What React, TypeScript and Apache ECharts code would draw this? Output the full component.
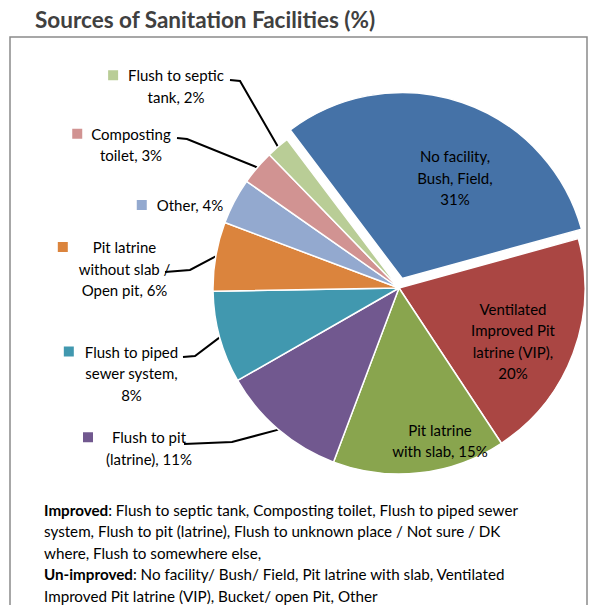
import React, { useEffect, useRef } from "react";
import * as echarts from "echarts";

// ---- data ----
const categories = [
  "No facility, Bush, Field",
  "Ventilated Improved Pit latrine (VIP)",
  "Pit latrine with slab",
  "Flush to pit (latrine)",
  "Flush to piped sewer system",
  "Pit latrine without slab / Open pit",
  "Other",
  "Composting toilet",
  "Flush to septic tank",
];
const values = [31, 20, 15, 11, 8, 6, 4, 3, 2];
// label lines ({v} = value)
const labelTexts = [
  ["No facility,", "Bush, Field,", "{v}"],
  ["Ventilated", "Improved Pit", "latrine (VIP),", "{v}"],
  ["Pit latrine", "with slab, {v}"],
  ["Flush to pit", "(latrine), {v}"],
  ["Flush to piped", "sewer system,", "{v}"],
  ["Pit latrine", "without slab /", "Open pit, {v}"],
  ["Other, {v}"],
  ["Composting", "toilet, {v}"],
  ["Flush to septic", "tank, {v}"],
];
const explodedIndex = 0;
const noteLines = [
  "{b|Improved}: Flush to septic tank, Composting toilet, Flush to piped sewer",
  "system, Flush to pit (latrine), Flush to unknown place / Not sure / DK",
  "where, Flush to somewhere else,",
  "{b|Un-improved}: No facility/ Bush/ Field, Pit latrine with slab, Ventilated",
  "Improved Pit latrine (VIP), Bucket/ open Pit, Other",
];
const titleText = "Sources of Sanitation Facilities (%)";

// ---- styles / layout ----
const colors = ["#4572A7", "#AA4643", "#89A54E", "#71588F", "#4198AF", "#DB843D", "#93A9CF", "#D19392", "#B9CD96"];
const insideLabel = [true, true, true, false, false, false, false, false, false];
const labelPos: [number, number][] = [
  [455, 177.5], [513, 341], [440, 440.5], [149, 448], [131.5, 373],
  [124.5, 268.5], [190, 205], [131, 144.5], [176, 86],
];
const keyGap = [0, 0, 0, 19, 11, 25, 10, 9, 10];
// leader line points on the label side: [elbow, end]
const leaderPts: (number[][] | null)[] = [
  null, null, null,
  [[232, 442], [184, 444]],
  [[195, 356], [183, 357]],
  [[190, 270], [165, 272]],
  null,
  [[187, 139], [177, 138]],
  [[240, 81], [230, 80]],
];
const CENTER: [number, number] = [399, 288];
const RADIUS = 186;
const START = 127;
const EXPLODE = 10;
const FONT = "Lato, 'Open Sans', sans-serif";

export default function App() {
  const ref = useRef<HTMLDivElement>(null);
  useEffect(() => {
    document.body.style.margin = "0";
    const chart = echarts.init(ref.current!, undefined, { renderer: "svg" });
    const total = values.reduce((a, b) => a + b, 0);
    let before = 0;
    for (let i = 0; i < explodedIndex; i++) before += values[i];
    const midDeg = START - ((before + values[explodedIndex] / 2) / total) * 360;
    const midRad = (midDeg * Math.PI) / 180;
    const exCenter = [CENTER[0] + EXPLODE * Math.cos(midRad), CENTER[1] - EXPLODE * Math.sin(midRad)];

    const data = values.map((v, i) => {
      const lines = labelTexts[i].map((l) => l.replace("{v}", `${v}%`));
      const item: any = {
        name: categories[i],
        value: v,
        itemStyle:
          i === explodedIndex
            ? { color: "rgba(0,0,0,0)", borderWidth: 0 }
            : { color: colors[i] },
      };
      if (insideLabel[i]) {
        item.label = { position: "inside", formatter: lines.join("\n") };
        item.labelLine = { show: false };
      } else {
        const first = `{k|}{g|}${lines[0]}{g|}{e|}`;
        item.label = {
          position: "outside",
          formatter: [first, ...lines.slice(1)].join("\n"),
          rich: {
            k: { width: 10, height: 10, backgroundColor: colors[i] },
            g: { width: keyGap[i] },
            e: { width: 10 },
          },
        };
        item.labelLine = { show: !!leaderPts[i] };
      }
      return item;
    });

    const explodedData = values.map((v, i) => ({
      name: categories[i],
      value: v,
      itemStyle: { color: i === explodedIndex ? colors[i] : "rgba(0,0,0,0)", borderWidth: i === explodedIndex ? 1.5 : 0 },
    }));

    chart.setOption({
      animation: false,
      graphic: [
        {
          type: "rect",
          shape: { x: 10, y: 37, width: 577, height: 620 },
          style: { fill: "none", stroke: "#8a8a8a", lineWidth: 1.5 },
          z: 0,
        },
        {
          type: "text",
          x: 35,
          y: 19,
          style: {
            text: titleText,
            fontFamily: FONT,
            fontSize: 22.5,
            fontWeight: "bold",
            fill: "#404040",
            verticalAlign: "middle",
            align: "left",
          },
        },
        {
          type: "text",
          x: 44,
          y: 499,
          style: {
            text: noteLines.join("\n"),
            fontFamily: FONT,
            fontSize: 15.2,
            lineHeight: 21.5,
            fill: "#000",
            verticalAlign: "top",
            align: "left",
            rich: {
              b: { fontFamily: FONT, fontSize: 15.2, fontWeight: "bold", lineHeight: 21.5, fill: "#000" },
            },
          },
        },
      ],
      series: [
        {
          type: "pie",
          center: exCenter,
          radius: RADIUS,
          startAngle: START,
          clockwise: true,
          silent: true,
          itemStyle: { borderColor: "#fff" },
          label: { show: false },
          labelLine: { show: false },
          emphasis: { disabled: true },
          data: explodedData,
        },
        {
          type: "pie",
          center: CENTER,
          radius: RADIUS,
          startAngle: START,
          clockwise: true,
          avoidLabelOverlap: false,
          itemStyle: { borderColor: "#fff", borderWidth: 1.5 },
          emphasis: { disabled: true },
          label: {
            color: "#000",
            fontFamily: FONT,
            fontSize: 15,
            lineHeight: 21.5,
            align: "center",
          },
          labelLine: {
            lineStyle: { color: "#000", width: 2 },
          },
          labelLayout: (params: any) => {
            const i = params.dataIndex;
            const [x, y] = labelPos[i];
            const res: any = { x, y, align: "center", verticalAlign: "middle" };
            const lp = leaderPts[i];
            if (lp && params.labelLinePoints && params.labelLinePoints.length) {
              res.labelLinePoints = [params.labelLinePoints[0], ...lp];
            }
            return res;
          },
          data,
        },
      ],
    });
    return () => chart.dispose();
  }, []);
  return <div ref={ref} style={{ width: 595, height: 605 }} />;
}
